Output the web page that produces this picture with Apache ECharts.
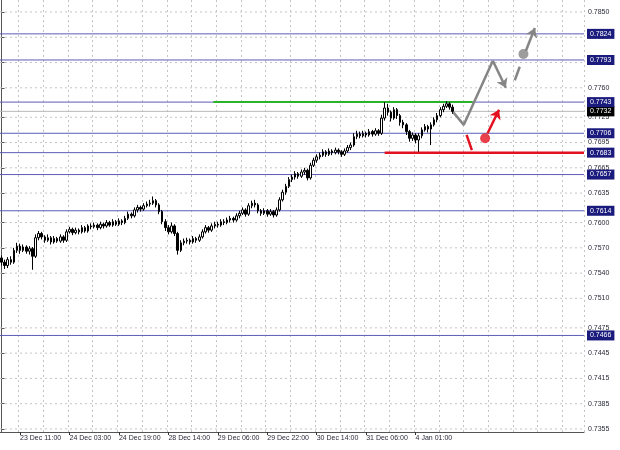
<!DOCTYPE html>
<html><head><meta charset="utf-8">
<script src="https://cdn.jsdelivr.net/npm/echarts@6/dist/echarts.min.js"></script>
<style>html,body{margin:0;padding:0;background:#fff}#c{width:620px;height:450px}</style>
</head><body><div id="c"></div>
<script>
// ---- data ----
const xTickLabels = ['23 Dec 11:00','24 Dec 03:00','24 Dec 19:00','28 Dec 14:00','29 Dec 06:00','29 Dec 22:00','30 Dec 14:00','31 Dec 06:00','4 Jan 01:00'];
const xTickFirst = 6;      // bar index of first labelled bar
const xTickStep = 16;      // bars between labels
const xGridStep = 8;       // bars between vertical grid lines
const slotCount = 189;     // bars + empty projection area

const yTicks = [0.7850,0.7820,0.7790,0.7760,0.7725,0.7695,0.7665,0.7635,0.7600,0.7570,0.7540,0.7510,0.7475,0.7445,0.7415,0.7385,0.7355];
const yMin = 0.73514, yMax = 0.78642;

// [open, close, low, high]
const candles = [
[0.7558,0.7553,0.7549,0.7561],[0.7553,0.7549,0.7545,0.7556],[0.7549,0.7556,0.7546,0.7559],[0.7556,0.7553,0.7550,0.7560],
[0.7553,0.7567,0.7551,0.7570],[0.7567,0.7572,0.7564,0.7576],[0.7572,0.7567,0.7563,0.7575],[0.7567,0.7571,0.7565,0.7574],
[0.7571,0.7566,0.7563,0.7573],[0.7566,0.7569,0.7562,0.7572],[0.7569,0.7560,0.7544,0.7571],[0.7560,0.7582,0.7558,0.7586],
[0.7582,0.7587,0.7579,0.7590],[0.7587,0.7583,0.7580,0.7589],[0.7583,0.7579,0.7576,0.7585],[0.7579,0.7582,0.7577,0.7586],
[0.7582,0.7577,0.7574,0.7584],[0.7577,0.7581,0.7575,0.7584],[0.7581,0.7578,0.7576,0.7583],[0.7578,0.7583,0.7576,0.7586],
[0.7583,0.7579,0.7576,0.7585],[0.7579,0.7589,0.7577,0.7592],[0.7589,0.7592,0.7587,0.7595],[0.7592,0.7588,0.7585,0.7594],
[0.7588,0.7591,0.7586,0.7594],[0.7591,0.7589,0.7586,0.7593],[0.7589,0.7594,0.7587,0.7597],[0.7594,0.7590,0.7588,0.7596],
[0.7590,0.7596,0.7588,0.7598],[0.7596,0.7595,0.7592,0.7599],[0.7595,0.7597,0.7593,0.7600],[0.7597,0.7594,0.7591,0.7599],
[0.7594,0.7598,0.7592,0.7601],[0.7598,0.7596,0.7593,0.7600],[0.7596,0.7600,0.7594,0.7603],[0.7600,0.7597,0.7595,0.7602],
[0.7597,0.7601,0.7595,0.7604],[0.7601,0.7598,0.7596,0.7603],[0.7598,0.7602,0.7596,0.7605],[0.7602,0.7600,0.7597,0.7604],
[0.7600,0.7605,0.7598,0.7608],[0.7605,0.7610,0.7603,0.7613],[0.7610,0.7608,0.7605,0.7612],[0.7608,0.7615,0.7606,0.7618],
[0.7615,0.7618,0.7612,0.7621],[0.7618,0.7616,0.7613,0.7620],[0.7616,0.7620,0.7614,0.7623],[0.7620,0.7622,0.7618,0.7625],
[0.7622,0.7623,0.7619,0.7627],[0.7623,0.7626,0.7621,0.7631],[0.7626,0.7621,0.7618,0.7628],[0.7621,0.7613,0.7610,0.7623],
[0.7613,0.7601,0.7598,0.7615],[0.7601,0.7594,0.7590,0.7604],[0.7594,0.7589,0.7586,0.7597],[0.7589,0.7596,0.7587,0.7600],
[0.7596,0.7587,0.7584,0.7598],[0.7587,0.7567,0.7562,0.7589],[0.7567,0.7576,0.7565,0.7579],[0.7576,0.7578,0.7573,0.7581],
[0.7578,0.7579,0.7575,0.7582],[0.7579,0.7577,0.7574,0.7581],[0.7577,0.7581,0.7575,0.7584],[0.7581,0.7579,0.7576,0.7583],
[0.7579,0.7583,0.7577,0.7586],[0.7583,0.7589,0.7581,0.7592],[0.7589,0.7594,0.7587,0.7597],[0.7594,0.7591,0.7588,0.7596],
[0.7591,0.7596,0.7589,0.7599],[0.7596,0.7598,0.7593,0.7601],[0.7598,0.7597,0.7594,0.7601],[0.7597,0.7601,0.7595,0.7604],
[0.7601,0.7600,0.7597,0.7604],[0.7600,0.7603,0.7598,0.7606],[0.7603,0.7605,0.7600,0.7608],[0.7605,0.7603,0.7600,0.7607],
[0.7603,0.7608,0.7601,0.7611],[0.7608,0.7611,0.7605,0.7614],[0.7611,0.7615,0.7609,0.7618],[0.7615,0.7610,0.7607,0.7617],
[0.7610,0.7620,0.7608,0.7623],[0.7620,0.7623,0.7617,0.7626],[0.7623,0.7621,0.7618,0.7627],[0.7621,0.7614,0.7611,0.7623],
[0.7614,0.7611,0.7608,0.7616],[0.7611,0.7614,0.7609,0.7617],[0.7614,0.7610,0.7607,0.7616],[0.7610,0.7613,0.7608,0.7616],
[0.7613,0.7609,0.7606,0.7615],[0.7609,0.7615,0.7607,0.7618],[0.7615,0.7627,0.7613,0.7630],[0.7627,0.7636,0.7625,0.7639],
[0.7636,0.7643,0.7633,0.7646],[0.7643,0.7651,0.7641,0.7654],[0.7651,0.7654,0.7648,0.7657],[0.7654,0.7658,0.7651,0.7661],
[0.7658,0.7655,0.7652,0.7660],[0.7655,0.7660,0.7653,0.7663],[0.7660,0.7662,0.7657,0.7665],[0.7662,0.7653,0.7650,0.7664],
[0.7653,0.7668,0.7651,0.7671],[0.7668,0.7674,0.7666,0.7677],[0.7674,0.7678,0.7671,0.7681],[0.7678,0.7680,0.7675,0.7683],
[0.7680,0.7684,0.7678,0.7687],[0.7684,0.7681,0.7678,0.7686],[0.7681,0.7685,0.7679,0.7688],[0.7685,0.7683,0.7680,0.7687],
[0.7683,0.7686,0.7681,0.7689],[0.7686,0.7684,0.7681,0.7688],[0.7684,0.7681,0.7678,0.7686],[0.7681,0.7685,0.7679,0.7688],
[0.7685,0.7689,0.7683,0.7692],[0.7689,0.7692,0.7686,0.7695],[0.7692,0.7702,0.7690,0.7706],[0.7702,0.7705,0.7699,0.7709],
[0.7705,0.7703,0.7700,0.7708],[0.7703,0.7706,0.7701,0.7709],[0.7706,0.7704,0.7701,0.7708],[0.7704,0.7708,0.7702,0.7711],
[0.7708,0.7705,0.7702,0.7710],[0.7705,0.7709,0.7703,0.7712],[0.7709,0.7706,0.7703,0.7711],[0.7706,0.7724,0.7704,0.7728],
[0.7724,0.7736,0.7721,0.7743],[0.7736,0.7731,0.7727,0.7741],[0.7731,0.7724,0.7720,0.7733],[0.7724,0.7734,0.7722,0.7737],
[0.7734,0.7727,0.7723,0.7736],[0.7727,0.7719,0.7715,0.7729],[0.7719,0.7716,0.7712,0.7722],[0.7716,0.7708,0.7704,0.7718],
[0.7708,0.7700,0.7696,0.7710],[0.7700,0.7704,0.7697,0.7707],[0.7704,0.7698,0.7694,0.7706],[0.7698,0.7703,0.7684,0.7706],
[0.7703,0.7710,0.7700,0.7713],[0.7710,0.7714,0.7708,0.7717],[0.7714,0.7711,0.7707,0.7716],[0.7711,0.7716,0.7692,0.7719],
[0.7716,0.7722,0.7714,0.7725],[0.7722,0.7727,0.7719,0.7730],[0.7727,0.7734,0.7725,0.7737],[0.7734,0.7738,0.7731,0.7741],
[0.7738,0.7741,0.7736,0.7744],[0.7741,0.7737,0.7734,0.7743],[0.7737,0.7732,0.7729,0.7740]
];

const levels = [0.7824, 0.7793, 0.7743, 0.7706, 0.7683, 0.7657, 0.7614, 0.7466];
const currentPrice = 0.7732;
const greenLevel = [[68.5, 0.7743], [152.5, 0.7743]];
const redLevel = [[124, 0.7683], [188.5, 0.7683]];

// projection scenario (bar index, price)
const greyPath = [[146.2, 0.7731], [149.6, 0.7716], [159.0, 0.7792]];
const greyArrowDown = [[159.0, 0.7792], [163.2, 0.7760]];
const greyDash = [[166.1, 0.7769], [167.7, 0.7785]];
const greyDot = [168.9, 0.7800];
const greyArrowUp = [[169.7, 0.7804], [172.6, 0.7831]];
const redDash = [[150.5, 0.7704], [152.2, 0.7686]];
const redDot = [156.5, 0.7700];
const redArrowUp = [[157.3, 0.7706], [161.0, 0.7734]];

// ---- chart ----
const FONT = 'Liberation Sans';
const TXT = '#2a2a3a';
const categories = [];
for (let i = 0; i < slotCount; i++) categories.push(String(i));
const xLeft = -0.5, xRight = slotCount - 0.5;

function isLabelIdx(i) {
  return i >= xTickFirst && (i - xTickFirst) % xTickStep === 0 && (i - xTickFirst) / xTickStep < xTickLabels.length;
}

function hLine(v, color, width, type, bg, z) {
  const s = {
    type: 'line', xAxisIndex: 1, data: [[xLeft, v], [xRight, v]], symbol: 'none', silent: true, z: z,
    lineStyle: {color: color, width: width, type: type}, clip: false
  };
  if (bg) {
    s.endLabel = {show: true, distance: 3, formatter: () => v.toFixed(4),
      color: '#fff', backgroundColor: bg, fontSize: 7, fontFamily: FONT,
      padding: [1, 3, 1, 3], lineHeight: 8};
  }
  return s;
}

const series = [];
yTicks.forEach(v => series.push(hLine(v, '#c4c4c4', 1, [2, 3], null, 0)));
series.push(hLine(currentPrice, '#b8b8b8', 1, 'solid', '#000000', 1));
levels.forEach(v => series.push(hLine(v, '#5c5cb8', 1, 'solid', '#1b1b7e', 1)));
series.push({
  type: 'candlestick', data: candles, barWidth: 2, z: 3,
  itemStyle: {color: '#ffffff', color0: '#000000', borderColor: '#000000', borderColor0: '#000000', borderWidth: 1}
});
series.push({type: 'line', xAxisIndex: 1, data: greenLevel, symbol: 'none', z: 2, silent: true,
  lineStyle: {color: '#29b32c', width: 2}});
series.push({type: 'line', xAxisIndex: 1, data: redLevel, symbol: 'none', z: 2, silent: true,
  lineStyle: {color: '#e3111f', width: 2.5}});
series.push({
  type: 'line', xAxisIndex: 1, data: greyPath, symbol: 'none', z: 5, silent: true,
  lineStyle: {color: '#858585', width: 2.5},
  markLine: {silent: true, symbol: ['none', 'arrow'], symbolSize: 9, label: {show: false},
    lineStyle: {color: '#858585', width: 2.5, type: 'solid'},
    data: [
      [{coord: greyArrowDown[0]}, {coord: greyArrowDown[1]}],
      [{coord: greyArrowUp[0]}, {coord: greyArrowUp[1]}]
    ]}
});
series.push({type: 'line', xAxisIndex: 1, data: greyDash, symbol: 'none', z: 5, silent: true,
  lineStyle: {color: '#858585', width: 2.5}});
series.push({type: 'scatter', xAxisIndex: 1, data: [greyDot], symbolSize: 10, z: 6, silent: true,
  itemStyle: {color: '#858585'}});
series.push({
  type: 'line', xAxisIndex: 1, data: redDash, symbol: 'none', z: 5, silent: true,
  lineStyle: {color: '#e3111f', width: 2.5},
  markLine: {silent: true, symbol: ['none', 'arrow'], symbolSize: 9, label: {show: false},
    lineStyle: {color: '#e3111f', width: 2.5, type: 'solid'},
    data: [[{coord: redArrowUp[0]}, {coord: redArrowUp[1]}]]}
});
series.push({type: 'scatter', xAxisIndex: 1, data: [redDot], symbolSize: 10, z: 6, silent: true,
  itemStyle: {color: '#e3111f'}});

const chart = echarts.init(document.getElementById('c'), null, {renderer: 'canvas'});
chart.setOption({
  animation: false,
  backgroundColor: '#ffffff',
  grid: {left: 0, right: 36, top: 0, bottom: 18},
  xAxis: [{
    type: 'category', data: categories, boundaryGap: true,
    axisLine: {show: true, lineStyle: {color: '#555', width: 1}},
    axisTick: {show: true, alignWithLabel: true, length: 3, interval: (i) => isLabelIdx(i), lineStyle: {color: '#333'}},
    axisLabel: {
      show: true, interval: (i) => isLabelIdx(i), align: 'left', margin: 3,
      fontSize: 7, fontFamily: FONT, color: TXT,
      formatter: (v, i) => xTickLabels[(i - xTickFirst) / xTickStep] || ''
    },
    splitLine: {show: true, interval: (i) => i >= xTickFirst && (i - xTickFirst) % xGridStep === 0,
      lineStyle: {color: '#c4c4c4', type: [2, 3], width: 1}}
  }, {
    type: 'value', min: xLeft, max: xRight, show: false
  }],
  yAxis: {
    type: 'value', position: 'right', min: yMin, max: yMax, scale: true,
    axisLine: {show: true, lineStyle: {color: '#555', width: 1}},
    axisTick: {show: true, customValues: yTicks, length: 3, lineStyle: {color: '#555'}},
    axisLabel: {show: true, customValues: yTicks, margin: 4, fontSize: 7, fontFamily: FONT, color: TXT,
      formatter: v => v.toFixed(4)},
    splitLine: {show: false}
  },
  series: series
});
</script>
</body></html>
